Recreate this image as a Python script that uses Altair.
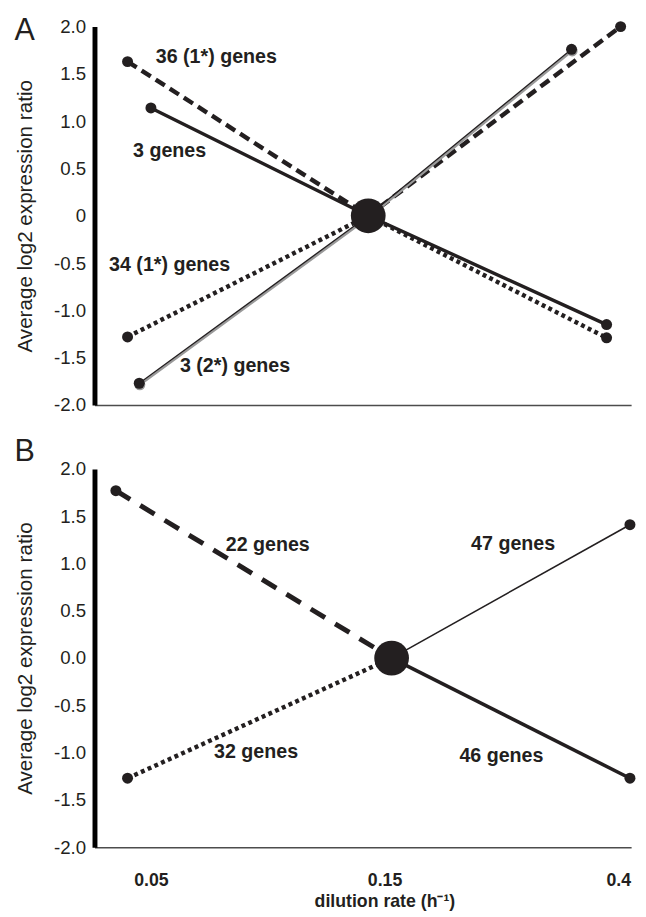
import altair as alt
import pandas as pd

# ---------------- data ----------------
# x positions are placement along the axis: 0 -> 0.05, 1 -> 0.15, 2 -> 0.4 (h^-1)
x_tick_values = [0, 1, 2]
x_tick_labels = ["0.05", "0.15", "0.4"]
y_tick_values = [-2.0, -1.5, -1.0, -0.5, 0.0, 0.5, 1.0, 1.5, 2.0]

# Panel A
a_series = ["36 (1*) genes", "3 genes", "34 (1*) genes", "3 (2*) genes"]
a_x = [[-0.10, 0.93, 2.01], [0.00, 0.93, 1.95], [-0.10, 0.93, 1.95], [-0.05, 0.93, 1.80]]
a_y = [[1.63, 0.0, 2.00], [1.14, 0.0, -1.15], [-1.28, 0.0, -1.29], [-1.77, 0.0, 1.76]]
a_center_x = [0.93]
a_center_y = [0.0]
a_label_x = [0.28, 0.08, 0.08, 0.36]
a_label_y = [1.68, 0.68, -0.52, -1.59]

# Panel B
b_series = ["22 genes", "32 genes", "47 genes", "46 genes"]
b_x = [[-0.15, 1.03], [-0.10, 1.03], [1.03, 2.05], [1.03, 2.05]]
b_y = [[1.77, 0.0], [-1.27, 0.0], [0.0, 1.41], [0.0, -1.27]]
b_center_x = [1.03]
b_center_y = [0.0]
b_label_x = [0.50, 0.45, 1.55, 1.50]
b_label_y = [1.19, -0.99, 1.21, -1.04]

panel_names = ["A", "B"]

# ---------------- styles ----------------
INK = "#231f20"
styles = {
    "36 (1*) genes": dict(strokeWidth=4.5, strokeDash=[11, 6]),
    "3 genes": dict(strokeWidth=3.5),
    "34 (1*) genes": dict(strokeWidth=4.5, strokeDash=[4, 3.5]),
    "3 (2*) genes": dict(strokeWidth=1.4, shadow=True),
    "22 genes": dict(strokeWidth=5, strokeDash=[17, 12]),
    "32 genes": dict(strokeWidth=4.5, strokeDash=[4, 3.5]),
    "47 genes": dict(strokeWidth=1.6),
    "46 genes": dict(strokeWidth=3.6),
}

W, H = 546, 385
x_scale = alt.Scale(domain=[-0.2415, 2.055], nice=False, zero=False)
y_scale = alt.Scale(domain=[-2.0, 2.0], nice=False, zero=False)

font = "Liberation Sans"
label_map = "datum.value == 0 ? '%s' : datum.value == 1 ? '%s' : '%s'" % tuple(x_tick_labels)


def build_panel(name, series, xs, ys, cx, cy, lx, ly, show_x):
    line_rows, pt_rows = [], []
    for s, xv, yv in zip(series, xs, ys):
        for i, (x, y) in enumerate(zip(xv, yv)):
            line_rows.append({"series": s, "order": i, "x": x, "y": y})
            if y != 0.0:
                pt_rows.append({"series": s, "x": x, "y": y})
    lines_df = pd.DataFrame(line_rows)
    pts_df = pd.DataFrame(pt_rows)
    center_df = pd.DataFrame({"x": cx, "y": cy})
    label_df = pd.DataFrame({"series": series, "x": lx, "y": ly})

    if show_x:
        x_axis = alt.Axis(
            values=x_tick_values, labelExpr=label_map,
            ticks=False, grid=False, domainColor="#4d4d4d", domainWidth=1.6,
            labelFontSize=18, labelFontWeight="bold", labelColor=INK, labelPadding=25,
            labelFont=font,
            title="dilution rate (h⁻¹)", titleFontSize=18, titleFontWeight="bold",
            titleColor=INK, titlePadding=3, titleX=295, titleFont=font,
        )
        ylab = "format(datum.value, '.1f')"
    else:
        x_axis = alt.Axis(values=x_tick_values, labels=False, ticks=False, grid=False,
                          domainColor="#4d4d4d", domainWidth=1.6, title=None)
        ylab = "datum.value == 0 ? '0' : format(datum.value, '.1f')"
    ylab = "datum.value < 0 ? '-' + format(abs(datum.value), '.1f') : (" + ylab + ")"

    y_axis = alt.Axis(
        values=y_tick_values, labelExpr=ylab, ticks=False, grid=False,
        domainColor="black", domainWidth=5, labelFontSize=19, labelColor=INK,
        labelFont=font, labelPadding=9,
        title="Average log2 expression ratio", titleFontSize=21, titleFontWeight="normal",
        titleColor=INK, titlePadding=18, titleFont=font,
    )

    base = alt.Chart(lines_df)
    enc_x = alt.X("x:Q", scale=x_scale, axis=x_axis)
    enc_y = alt.Y("y:Q", scale=y_scale, axis=y_axis)

    layers = []
    for s in series:
        st = styles[s]
        if st.get("shadow"):
            layers.append(
                base.transform_filter(alt.datum.series == s)
                .mark_line(color="#9a9a9a", strokeWidth=2.4, yOffset=1.6, xOffset=0.6)
                .encode(x=enc_x, y=enc_y, order="order:Q")
            )
            layers.append(
                alt.Chart(pts_df).transform_filter(alt.datum.series == s)
                .mark_circle(color="#9a9a9a", opacity=1, size=125, yOffset=1.6, xOffset=0.6)
                .encode(x="x:Q", y="y:Q")
            )
        mk = dict(color=INK, strokeWidth=st["strokeWidth"], strokeCap="butt")
        if "strokeDash" in st:
            mk["strokeDash"] = st["strokeDash"]
        layers.append(
            base.transform_filter(alt.datum.series == s)
            .mark_line(**mk)
            .encode(x=enc_x, y=enc_y, order="order:Q")
        )

    dots = alt.Chart(pts_df).mark_circle(color=INK, opacity=1, size=125).encode(x="x:Q", y="y:Q")
    center = alt.Chart(center_df).mark_circle(color=INK, opacity=1, size=1250).encode(x="x:Q", y="y:Q")
    labels = alt.Chart(label_df).mark_text(
        font=font, fontSize=20, fontWeight="bold", color=INK, align="center", baseline="middle"
    ).encode(x="x:Q", y="y:Q", text="series:N")

    tag_y = 5 if name == "A" else -17
    tag = alt.Chart(pd.DataFrame({"t": [name]})).mark_text(
        font=font, fontSize=31, color=INK, align="center", baseline="middle"
    ).encode(x=alt.value(-71), y=alt.value(tag_y), text="t:N")

    return alt.layer(*layers, dots, center, labels, tag).properties(width=W, height=H)


panel_a = build_panel("A", a_series, a_x, a_y, a_center_x, a_center_y, a_label_x, a_label_y, False)
panel_b = build_panel("B", b_series, b_x, b_y, b_center_x, b_center_y, b_label_x, b_label_y, True)

chart = (
    alt.vconcat(panel_a, panel_b, spacing=22)
    .properties(padding={"left": 6, "top": 0, "right": 0, "bottom": 0})
    .configure(font=font)
    .configure_view(stroke="transparent", strokeWidth=0)
)

chart.save("out.html", embed_options={"renderer": "svg", "actions": False})
